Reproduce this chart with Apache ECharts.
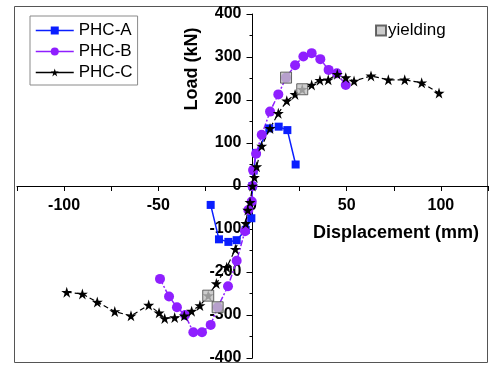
<!DOCTYPE html>
<html>
<head>
<meta charset="utf-8">
<script src="https://cdn.jsdelivr.net/npm/echarts@6/dist/echarts.min.js"></script>
<style>
html, body { margin: 0; padding: 0; background: #fff; }
#chart { width: 491px; height: 365px; }
</style>
</head>
<body>
<div id="chart"></div>
<script>
// skeleton curves (displacement mm, load kN)
var aDisp = [-22.2, -17.8, -12.8, -8.4, -3.6, -0.6, 0, 0.6, 1.9, 8.9, 13.9, 18.5, 22.9];
var aLoad = [-44, -124, -130, -126, -102, -75, 0, 36, 77, 134, 138, 130, 50];

var bDisp = [-49.1, -44.3, -40.1, -35.8, -31.4, -26.8, -22.2, -18.5, -13, -8.4, -4, -2.2, -0.4, 0, 0.3, 1.9, 4.9, 9.3, 13.7, 17.8, 22.6, 27, 31.4, 36, 40.4, 44.8, 49.5];
var bLoad = [-216, -257, -282, -300, -340, -340, -323, -282, -233, -174, -105, -56, -36, 0, 37, 75, 119, 173, 213, 252, 281, 301, 309, 295, 270, 262, 235];

var cDisp = [-98.6, -90.3, -82.4, -73.1, -64.5, -55.1, -49.6, -46.6, -41.3, -36.2, -32.3, -27.9, -23.5, -19.2, -13.7, -9.1, -3.6, -2.5, -1.3, 0, 1, 2.2, 4.9, 9.3, 13.7, 18.2, 22.6, 26.4, 31.4, 35.8, 40.2, 45, 49.5, 53.9, 62.9, 72.1, 80.8, 89.8, 99];
var cLoad = [-247, -251, -270, -292, -302, -277, -295, -308, -306, -302, -291, -278, -255, -227, -189, -147, -87, -56, -38, 0, 20, 45, 93, 134, 169, 198, 213, 225, 235, 246, 247, 260, 252, 244, 256, 247, 247, 240, 216];

var yieldDisp = [-23.5, -18.5, 17.8, 26.4];
var yieldLoad = [-255, -282, 252, 225];

var xTicks = [-100, -50, 0, 50, 100];

function pairs(xs, ys) {
    var out = [];
    for (var i = 0; i < xs.length; i++) {
        out.push([xs[i], ys[i]]);
    }
    return out;
}

var star = 'path://M0,-100L22.45,-30.9L95.1,-30.9L36.3,11.8L58.8,80.9L0,38.2L-58.8,80.9L-36.3,11.8L-95.1,-30.9L-22.45,-30.9Z';
var font = 'Liberation Sans, Arial, sans-serif';

var chart = echarts.init(document.getElementById('chart'));
var option = {
    animation: false,
    grid: { left: 17, right: 3, top: 14, bottom: 7, containLabel: false, outerBoundsMode: 'none' },
    legend: [{
        data: ['PHC-A', 'PHC-B', 'PHC-C'],
        orient: 'vertical',
        left: 30,
        top: 16,
        padding: [5, 5, 3, 5],
        itemWidth: 38,
        itemHeight: 10,
        itemGap: 2,
        borderColor: '#8a8a8a',
        borderWidth: 1,
        lineStyle: { type: 'solid', width: 1.5 },
        textStyle: { fontFamily: font, fontSize: 17, lineHeight: 19, color: '#000' }
    }, {
        data: ['yielding'],
        left: 370,
        top: 17,
        itemWidth: 10,
        itemHeight: 10,
        itemGap: 2,
        textStyle: { fontFamily: font, fontSize: 17, color: '#000', padding: [0, 0, 0, -3] }
    }],
    // axes cross at the origin: shifted in from the grid edges
    xAxis: {
        type: 'value',
        min: -125,
        max: 125,
        interval: 25,
        offset: -172,
        axisLine: { onZero: false, lineStyle: { color: '#000', width: 1 } },
        axisTick: { length: 5, lineStyle: { color: '#000' } },
        splitLine: { show: false },
        axisLabel: {
            margin: 12,
            fontFamily: font,
            fontSize: 16,
            fontWeight: 'bold',
            color: '#000',
            formatter: function (v) {
                return xTicks.indexOf(v) >= 0 ? String(v) : '';
            }
        }
    },
    yAxis: {
        type: 'value',
        min: -400,
        max: 400,
        interval: 100,
        offset: -235.5,
        axisLine: { onZero: false, lineStyle: { color: '#000', width: 1 } },
        axisTick: { length: 6, lineStyle: { color: '#000' } },
        minorTick: { show: true, splitNumber: 2, length: 3, lineStyle: { color: '#000' } },
        splitLine: { show: false },
        axisLabel: {
            margin: 11,
            fontFamily: font,
            fontSize: 16,
            fontWeight: 'bold',
            color: '#000'
        }
    },
    graphic: [{
        type: 'rect',
        shape: { x: 14.5, y: 6.5, width: 473, height: 356 },
        style: { fill: null, stroke: '#555', lineWidth: 1 },
        silent: true
    }, {
        type: 'text',
        x: 192,
        y: 69,
        rotation: Math.PI / 2,
        style: {
            text: 'Load (kN)',
            font: 'bold 18px ' + font,
            fill: '#000',
            align: 'center',
            verticalAlign: 'middle'
        }
    }, {
        type: 'text',
        x: 479,
        y: 233,
        style: {
            text: 'Displacement (mm)',
            font: 'bold 18px ' + font,
            fill: '#000',
            align: 'right',
            verticalAlign: 'middle'
        }
    }],
    series: [{
        name: 'PHC-A',
        type: 'line',
        data: pairs(aDisp, aLoad),
        symbol: 'rect',
        symbolSize: 8,
        color: '#0a1eff',
        lineStyle: { width: 1.5, type: 'solid' }
    }, {
        name: 'PHC-B',
        type: 'line',
        data: pairs(bDisp, bLoad),
        symbol: 'circle',
        symbolSize: 10,
        color: '#8f1fff',
        lineStyle: { width: 1.5, type: [6, 2, 2, 2] }
    }, {
        name: 'PHC-C',
        type: 'line',
        data: pairs(cDisp, cLoad),
        symbol: star,
        symbolSize: 11,
        color: '#000',
        lineStyle: { width: 1.2, type: [5, 3] }
    }, {
        name: 'yielding',
        type: 'scatter',
        data: pairs(yieldDisp, yieldLoad),
        symbol: 'rect',
        symbolSize: 11,
        z: 5,
        itemStyle: { color: '#c0c0c0', borderColor: '#444', borderWidth: 1 }
    }]
};
chart.setOption(option);
</script>
</body>
</html>
